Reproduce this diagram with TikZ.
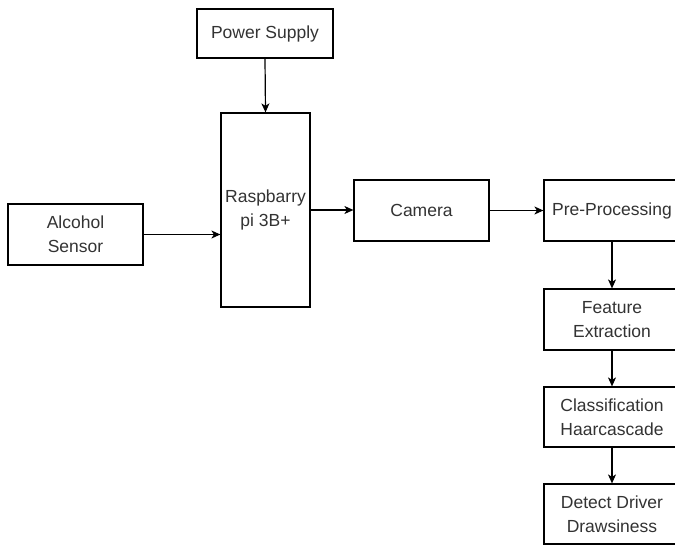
\documentclass[tikz,border=0pt]{standalone}
\usepackage{fontspec}
\setmainfont{Liberation Sans}
\usetikzlibrary{arrows.meta}
\definecolor{txt}{HTML}{333333}
\begin{document}
\begin{tikzpicture}[x=1pt,y=-1pt,
  blk/.style={draw=black,line width=1.2pt,fill=white,inner sep=0pt,align=center,
    text=txt,font=\fontsize{17.5}{24}\selectfont},
  conn/.style={draw=black,line width=1.2pt,-{Stealth[length=9pt,width=8pt,inset=2.5pt]}}]
\useasboundingbox[fill=white] (0,0) rectangle (675,545);
\node[blk,minimum width=136pt,minimum height=49pt] (ps) at (265,33.5) {Power Supply};
\node[blk,minimum width=89pt,minimum height=194pt] (rpi) at (265.5,210) {Raspbarry\\pi 3B+};
\node[blk,minimum width=135pt,minimum height=61pt] (alc) at (75.5,234.5) {Alcohol\\Sensor};
\node[blk,minimum width=135pt,minimum height=61pt] (cam) at (421.5,210.5) {Camera};
\node[blk,minimum width=136pt,minimum height=61pt] (pre) at (612,210.5) {Pre-Processing};
\node[blk,minimum width=136pt,minimum height=61pt] (fe) at (612,319.5) {Feature\\Extraction};
\node[blk,minimum width=136pt,minimum height=60pt] (cls) at (612,417) {Classification\\Haarcascade};
\node[blk,minimum width=136pt,minimum height=60pt] (det) at (612,514) {Detect Driver\\Drawsiness};
\draw[conn] (ps.south) -- (rpi.north);
\draw[conn] (alc.east) -- (rpi.west |- alc.east);
\draw[conn] (rpi.east) -- (cam.west |- rpi.east);
\draw[conn] (cam.east) -- (pre.west);
\draw[conn] (pre.south) -- (fe.north);
\draw[conn] (fe.south) -- (cls.north);
\draw[conn] (cls.south) -- (det.north);
\end{tikzpicture}
\end{document}
